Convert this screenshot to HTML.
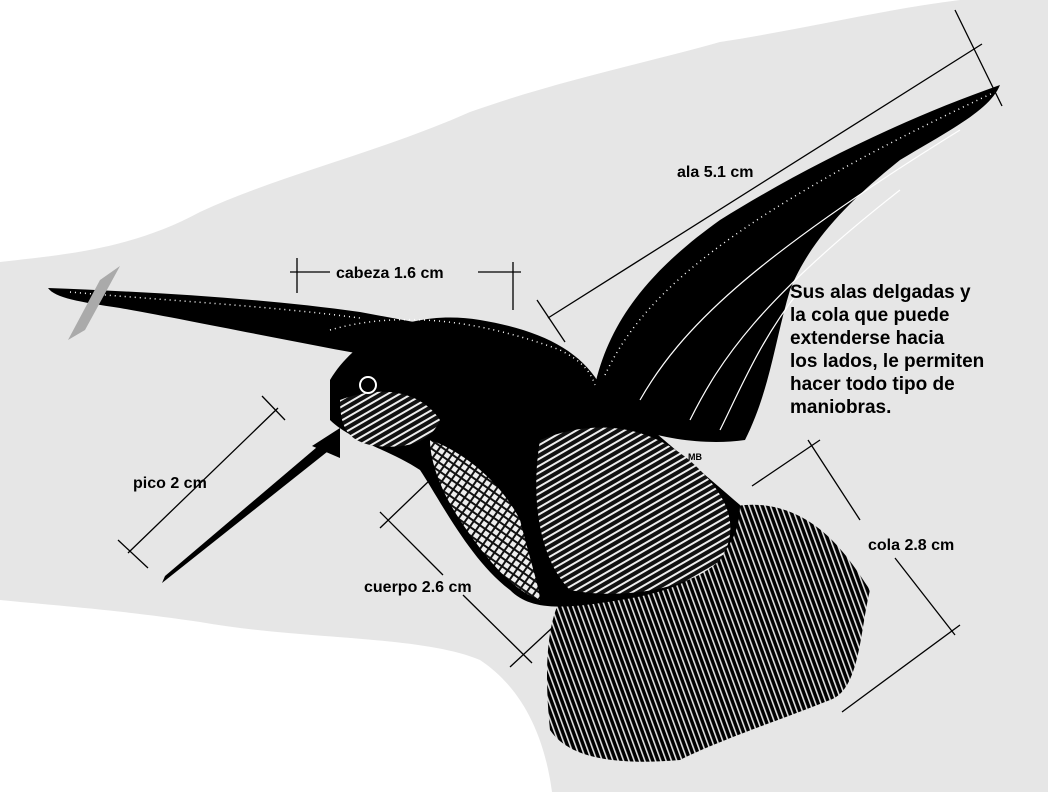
<!DOCTYPE html>
<html><head><meta charset="utf-8"><style>
html,body{margin:0;padding:0;background:#fff;}
svg{display:block}
text{font-family:"Liberation Sans",sans-serif;font-weight:bold;fill:#000}
</style></head><body>
<svg width="1048" height="792" viewBox="0 0 1048 792" xmlns="http://www.w3.org/2000/svg">
<defs>
<pattern id="hatch" width="6" height="6" patternUnits="userSpaceOnUse" patternTransform="rotate(60)">
<rect width="6" height="6" fill="#111"/><rect width="2" height="6" fill="#eee"/>
</pattern>
<pattern id="grid" width="7" height="7" patternUnits="userSpaceOnUse" patternTransform="rotate(35)">
<rect width="7" height="7" fill="#eee"/><rect width="7" height="2" fill="#111"/><rect width="2" height="7" fill="#111"/>
</pattern>
<pattern id="feather" width="5" height="5" patternUnits="userSpaceOnUse" patternTransform="rotate(-20)">
<rect width="5" height="5" fill="#000"/><rect width="1.6" height="5" fill="#ddd"/>
</pattern>
</defs>
<rect width="1048" height="792" fill="#fff"/>
<path d="M0,262 C60,255 130,250 200,212 C280,175 380,152 470,112 C560,80 650,62 720,42 C800,30 880,10 960,0 L1048,0 L1048,792 L552,792 C545,740 525,690 480,660 C420,635 300,640 200,622 C120,610 50,605 0,600 Z" fill="#e6e6e6"/>
<path d="M48,288 C150,292 260,298 360,312 L430,325 L425,365 C330,350 200,322 120,308 C80,302 55,298 48,288 Z" fill="#000"/>
<path d="M70,292 C160,300 270,306 360,318" stroke="#fff" stroke-width="1.5" stroke-dasharray="1 4" fill="none"/>
<path d="M100,280 L120,266 L85,330 L68,340 Z" fill="#aaa"/>
<path d="M595,385 C610,320 650,270 720,220 C800,170 900,120 1000,85 C990,110 950,130 900,160 C850,200 810,240 790,290 C775,340 770,390 745,440 C710,445 670,440 640,430 C610,420 600,400 595,385 Z" fill="#000"/>
<path d="M605,375 C640,300 720,220 995,92" stroke="#fff" stroke-width="1.5" stroke-dasharray="1 4" fill="none"/>
<path d="M640,400 C680,330 750,260 960,130 M690,420 C720,360 760,300 900,190 M720,430 C740,390 760,340 800,290" stroke="#fff" stroke-width="1.2" fill="none"/>
<path d="M560,600 C600,560 700,500 760,505 C820,510 850,560 870,590 C860,630 860,690 830,700 C780,720 720,740 680,760 C620,765 570,760 550,730 C545,680 545,630 560,600 Z" fill="url(#feather)"/>
<path d="M330,380 C360,330 420,310 480,320 C540,330 580,350 600,385 C640,420 700,470 740,505 C740,560 690,590 620,600 C560,610 530,610 510,590 C470,560 440,500 420,470 C390,450 350,440 330,420 Z" fill="#000"/>
<path d="M540,440 C590,420 650,420 700,470 C730,500 740,530 720,560 C690,590 620,600 570,590 C540,560 530,500 540,440 Z" fill="url(#hatch)"/>
<path d="M430,440 C460,450 500,480 520,520 C530,560 540,590 540,600 C510,590 480,550 460,520 C440,490 430,460 430,440 Z" fill="url(#grid)"/>
<path d="M340,400 C380,385 420,390 440,420 C430,445 400,450 370,445 C350,440 340,430 340,400 Z" fill="url(#hatch)"/>
<circle cx="368" cy="385" r="8" fill="none" stroke="#fff" stroke-width="2"/>
<path d="M330,330 C400,310 480,320 560,350 C580,360 590,370 595,385" stroke="#fff" stroke-width="1.5" stroke-dasharray="1 4" fill="none"/>
<path d="M330,436 L165,576 L162,583 L332,448 Z" fill="#000"/>
<path d="M312,446 L340,428 L340,458 Z" fill="#000"/>
<text x="688" y="460" font-size="9">MB</text>
<g stroke="#000" stroke-width="1.3" fill="none">
<line x1="548" y1="318" x2="982" y2="44"/><line x1="537" y1="300" x2="565" y2="342"/><line x1="955" y1="10" x2="1002" y2="106"/>
<line x1="290" y1="272" x2="330" y2="272"/><line x1="478" y1="272" x2="521" y2="272"/><line x1="297" y1="258" x2="297" y2="293"/><line x1="513" y1="262" x2="513" y2="310"/>
<line x1="128" y1="553" x2="278" y2="408"/><line x1="118" y1="540" x2="148" y2="568"/><line x1="262" y1="396" x2="285" y2="420"/>
<line x1="380" y1="512" x2="443" y2="575"/><line x1="463" y1="595" x2="532" y2="663"/><line x1="380" y1="528" x2="430" y2="480"/><line x1="510" y1="667" x2="552" y2="628"/>
<line x1="752" y1="486" x2="820" y2="440"/><line x1="808" y1="440" x2="860" y2="520"/><line x1="895" y1="558" x2="955" y2="635"/><line x1="842" y1="712" x2="960" y2="625"/>
</g>
<text x="677" y="177" font-size="16">ala 5.1 cm</text>
<text x="336" y="278" font-size="16">cabeza 1.6 cm</text>
<text x="133" y="488" font-size="16">pico 2 cm</text>
<text x="364" y="592" font-size="16">cuerpo 2.6 cm</text>
<text x="868" y="550" font-size="16">cola 2.8 cm</text>
<g font-size="19">
<text x="790" y="298">Sus alas delgadas y</text>
<text x="790" y="321">la cola que puede</text>
<text x="790" y="344">extenderse hacia</text>
<text x="790" y="367">los lados, le permiten</text>
<text x="790" y="390">hacer todo tipo de</text>
<text x="790" y="413">maniobras.</text>
</g>
</svg>
</body></html>
